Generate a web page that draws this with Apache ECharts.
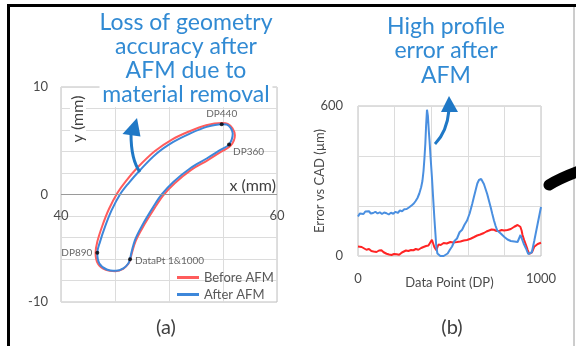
<!DOCTYPE html>
<html>
<head>
<meta charset="utf-8">
<script src="https://cdn.jsdelivr.net/npm/echarts@6/dist/echarts.min.js"></script>
<style>html,body{margin:0;padding:0;background:#fff;}#c{width:576px;height:346px;}</style>
</head>
<body>
<div id="c"></div>
<script>
// ---- Panel (a): profile shape (mm) ----
const afterX  = [46.39,46.85,47.62,48.55,49.32,50.40,51.94,53.49,54.72,55.56,55.90,55.71,55.34,54.88,53.49,51.94,50.40,48.86,47.31,46.23,45.46,44.69,44.07,43.61,43.36,43.55,44.23,45.09,45.77,46.23,46.39];
const afterY  = [-6.02,-4.25,-2.70,-1.15,0.00,1.17,2.42,3.35,4.12,4.65,5.67,6.20,6.51,6.54,6.29,5.67,4.89,3.81,2.26,1.02,0.00,-1.46,-3.01,-4.41,-5.43,-6.42,-6.98,-7.10,-6.88,-6.42,-6.02];
const beforeX = [46.42,46.92,47.72,48.66,49.45,50.53,52.05,53.60,54.84,55.71,56.10,55.88,55.44,54.89,53.44,51.85,50.27,48.70,47.11,46.01,45.22,44.44,43.82,43.36,43.20,43.42,44.15,45.04,45.76,46.24,46.42];
const beforeY = [-6.03,-4.32,-2.80,-1.28,-0.10,1.05,2.29,3.20,3.99,4.54,5.52,6.17,6.57,6.65,6.44,5.86,5.11,4.04,2.53,1.25,0.14,-1.35,-2.93,-4.40,-5.44,-6.44,-7.01,-7.13,-6.91,-6.44,-6.03];
const markNames = ['DataPt 1&1000','DP360','DP440','DP890'];
const markX = [46.39,55.56,54.88,43.36];
const markY = [-6.02,4.65,6.54,-5.43];
const xTicksA = [40,60];
const yTicksA = [-10,0,10];

// ---- Panel (b): error vs CAD (um) by data point ----
const dpAfter  = [0,10,20,30,40,50,60,70,83,95,107,119,131,143,156,168,180,193,205,217,229,241,253,266,280,294,305,315,325,335,345,352,358,363,368,372,377,382,387,391,397,404,410,417,423,428,434,440,450,460,468,478,490,502,514,527,541,555,569,582,596,610,624,633,642,652,661,667,673,680,688,697,706,716,725,734,743,752,761,780,800,817,835,854,872,880,888,895,905,918,930,940,950,963,982,1000];
const errAfter = [158,170,176,168,178,173,179,170,172,177,170,175,168,174,171,166,173,169,177,172,182,179,187,188,195,203,210,220,232,250,275,300,340,390,450,520,585,560,500,460,390,315,240,155,90,36,10,3,0,2,0,5,10,25,38,60,70,95,105,125,142,170,208,235,261,290,304,310,308,300,288,268,248,220,195,168,142,120,102,90,76,66,60,58,56,70,84,70,50,30,8,0,15,60,130,196];
const dpBefore  = [0,10,20,30,46,60,73,85,101,115,128,140,156,170,183,197,211,225,240,248,262,275,290,303,316,330,345,358,372,385,395,404,410,417,423,428,434,440,452,468,485,505,520,541,560,578,595,615,632,651,668,688,702,716,730,743,757,771,785,798,817,835,854,862,872,881,887,894,899,908,918,927,936,941,950,963,972,982,991,1000];
const errBefore = [38,42,36,30,25,28,20,18,16,22,23,15,9,6,4,8,7,5,14,12,22,20,24,23,28,25,32,36,40,42,50,65,58,36,30,23,35,46,44,52,50,56,54,56,58,62,64,69,75,82,86,92,98,102,106,105,100,100,104,102,104,108,117,115,124,122,117,102,84,64,44,25,8,3,14,37,42,48,50,53];
const xTicksB = [0,1000];
const yTicksB = [0,600];

const titleA = ['Loss of geometry','accuracy after','AFM due to','material removal'];
const titleB = ['High profile','error after','AFM'];

const zip = (a,b) => a.map((v,i)=>[v,b[i]]);
const FONT = 'Lato, "Open Sans", sans-serif';
const LBL = '#4a4a4a';

const chart = echarts.init(document.getElementById('c'), null, {renderer:'canvas'});
chart.setOption({
  animation:false,
  backgroundColor:'#fff',
  textStyle:{fontFamily:FONT},
  grid:[
    {left:61, top:87, width:216, height:215, show:true, borderColor:'#bfbfbf', borderWidth:1},
    {left:358, top:106, width:183, height:150, show:true, borderColor:'#bfbfbf', borderWidth:1}
  ],
  xAxis:[
    {type:'value', gridIndex:0, min:40, max:60, interval:5,
     axisLine:{show:false, onZero:false}, axisTick:{show:false},
     axisLabel:{margin:-93, fontSize:13, color:LBL, fontFamily:FONT, formatter:v=>xTicksA.includes(v)?String(v):''},
     splitLine:{show:true, lineStyle:{color:'#dcdcdc'}}},
    {type:'value', gridIndex:1, min:0, max:1000, interval:200,
     axisLine:{show:false}, axisTick:{show:false},
     axisLabel:{margin:16, fontSize:13, color:LBL, fontFamily:FONT, formatter:v=>xTicksB.includes(v)?String(v):''},
     splitLine:{show:true, lineStyle:{color:'#dcdcdc'}},
     name:'Data Point (DP)', nameLocation:'middle', nameGap:20, nameMoveOverlap:false,
     nameTextStyle:{fontSize:13, color:LBL, fontFamily:FONT}}
  ],
  yAxis:[
    {type:'value', gridIndex:0, min:-10, max:10, interval:2,
     axisLine:{show:false}, axisTick:{show:false},
     axisLabel:{margin:13, fontSize:13, color:LBL, fontFamily:FONT, formatter:v=>yTicksA.includes(v)?String(v):''},
     splitLine:{show:true, lineStyle:{color:'#dcdcdc'}}},
    {type:'value', gridIndex:1, min:0, max:600, interval:200,
     axisLine:{show:false}, axisTick:{show:false},
     axisLabel:{margin:15, fontSize:13, color:LBL, fontFamily:FONT, formatter:v=>yTicksB.includes(v)?String(v):''},
     splitLine:{show:true, lineStyle:{color:'#dcdcdc'}},
     name:'Error vs CAD (\u00b5m)', nameLocation:'middle', nameRotate:90, nameGap:32, nameMoveOverlap:false,
     nameTextStyle:{fontSize:13, color:LBL, fontFamily:FONT}}
  ],
  legend:{
    data:['Before AFM','After AFM'], orient:'vertical', left:172, top:266,
    icon:'rect', itemWidth:22, itemHeight:3, itemGap:4,
    textStyle:{fontSize:13, color:'#595959', fontFamily:FONT, lineHeight:13}
  },
  series:[
    {name:'Before AFM', type:'line', xAxisIndex:0, yAxisIndex:0, data:zip(beforeX,beforeY),
     smooth:0.35, showSymbol:false, lineStyle:{color:'#ff5c5c', width:2}, itemStyle:{color:'#ff5c5c'},
     markLine:{silent:true, symbol:'none', label:{show:false}, lineStyle:{color:'#9a9a9a', width:1, type:'solid'},
               data:[{yAxis:0}]}},
    {name:'After AFM', type:'line', xAxisIndex:0, yAxisIndex:0, data:zip(afterX,afterY),
     smooth:0.35, showSymbol:false, lineStyle:{color:'#3d87da', width:2}, itemStyle:{color:'#3d87da'}},
    {name:'marks', type:'scatter', xAxisIndex:0, yAxisIndex:0, symbolSize:4, itemStyle:{color:'#000'},
     data:markNames.map((n,i)=>{
       const pos = {'DP440':{position:'top',distance:3,offset:[0,0]},
                    'DP360':{position:'right',distance:2,offset:[0,7]},
                    'DP890':{position:'left',distance:3,offset:[0,0]},
                    'DataPt 1&1000':{position:'right',distance:3,offset:[0,2]}}[n];
       return {value:[markX[i],markY[i]], name:n,
               label:Object.assign({show:true, formatter:n, fontSize:10, color:'#404040', fontFamily:FONT}, pos)};
     }), z:5},
    {name:'Before AFM (b)', type:'line', xAxisIndex:1, yAxisIndex:1, data:zip(dpBefore,errBefore),
     showSymbol:false, lineStyle:{color:'#ff2424', width:2}},
    {name:'After AFM (b)', type:'line', xAxisIndex:1, yAxisIndex:1, data:zip(dpAfter,errAfter),
     showSymbol:false, lineStyle:{color:'#4a8fe0', width:2}}
  ],
  graphic:[
    {type:'line', z:100, shape:{x1:7, y1:5.5, x2:576, y2:5.5}, style:{stroke:'#000', lineWidth:3}},
    {type:'line', z:100, shape:{x1:8.5, y1:4, x2:8.5, y2:346}, style:{stroke:'#000', lineWidth:3}},
    {type:'line', z:100, shape:{x1:574, y1:7, x2:574, y2:346}, style:{stroke:'#9a9a9a', lineWidth:1}},
    {type:'text', z:100, x:186, y:11, style:{text:titleA.join('\n'), fill:'#318ad3', fontSize:23, fontFamily:FONT,
      align:'center', verticalAlign:'top', lineHeight:24, backgroundColor:'#fff'}},
    {type:'text', z:100, x:446, y:14, style:{text:titleB.join('\n'), fill:'#318ad3', fontSize:23, fontFamily:FONT,
      align:'center', verticalAlign:'top', lineHeight:24.5}},
    {type:'text', z:100, x:276, y:186, style:{text:'x (mm)', fill:'#404040', fontSize:16, fontFamily:FONT,
      align:'right', verticalAlign:'middle', backgroundColor:'#fff'}},
    {type:'text', z:100, x:78, y:119, rotation:Math.PI/2, style:{text:'y (mm)', fill:'#404040', fontSize:16, fontFamily:FONT,
      align:'center', verticalAlign:'middle', backgroundColor:'#fff'}},
    {type:'text', z:100, x:166, y:328, style:{text:'(a)', fill:'#404040', fontSize:20, fontFamily:FONT, align:'center', verticalAlign:'middle'}},
    {type:'text', z:100, x:452, y:328, style:{text:'(b)', fill:'#404040', fontSize:20, fontFamily:FONT, align:'center', verticalAlign:'middle'}},
    // arrow (a)
    {type:'bezierCurve', z:100, shape:{x1:140, y1:172, cpx1:131, cpy1:160, x2:131, y2:134}, style:{stroke:'#1f78c6', lineWidth:3, fill:null}},
    {type:'polygon', z:100, shape:{points:[[137,118],[122.5,134],[140.5,136.5]]}, style:{fill:'#1f78c6'}},
    // arrow (b)
    {type:'bezierCurve', z:100, shape:{x1:435, y1:144, cpx1:447, cpy1:132, x2:449, y2:110}, style:{stroke:'#1f78c6', lineWidth:3, fill:null}},
    {type:'polygon', z:100, shape:{points:[[449,96],[441,112],[458,112]]}, style:{fill:'#1f78c6'}},
    // black stroke at right
    {type:'bezierCurve', z:100, shape:{x1:549, y1:185, cpx1:560, cpy1:178, x2:582, y2:170}, style:{stroke:'#000', lineWidth:11, lineCap:'round', fill:null}}
  ]
});
</script>
</body>
</html>
